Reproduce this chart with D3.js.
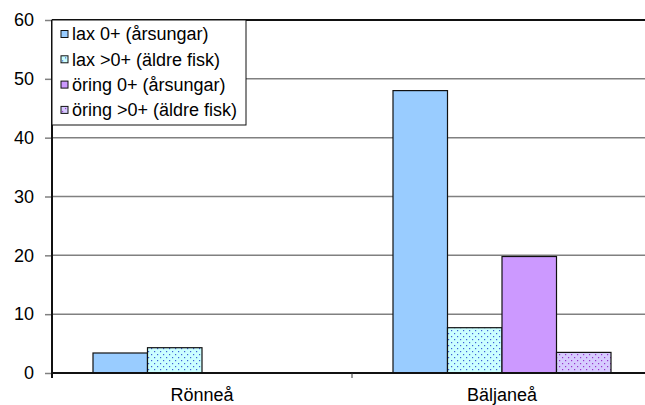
<!DOCTYPE html>
<html>
<head>
<meta charset="utf-8">
<script src="https://cdn.jsdelivr.net/npm/d3@7"></script>
<style>
  body { margin: 0; background: #fff; }
  text { font-family: Arial, "Liberation Sans", sans-serif; }
</style>
</head>
<body>
<script>
// data
const rivers = ["Rönneå", "Bäljaneå"];
const seriesNames = ["lax 0+ (årsungar)", "lax >0+ (äldre fisk)", "öring 0+ (årsungar)", "öring >0+ (äldre fisk)"];
const laxYoung = [3.4, 48];
const laxOld = [4.3, 7.7];
const oringYoung = [0, 19.8];
const oringOld = [0, 3.5];
const yTicks = [0, 10, 20, 30, 40, 50, 60];

const seriesValues = [laxYoung, laxOld, oringYoung, oringOld];

const width = 645, height = 405;
const margin = {top: 20, right: -7, bottom: 32, left: 52};
const innerW = width - margin.left - margin.right;
const innerH = height - margin.top - margin.bottom;
const fontSize = 18;

const svg = d3.select("body").append("svg")
    .attr("width", width)
    .attr("height", height);

// dotted patterns for the older fish
const defs = svg.append("defs");
function dots(id, bg, dot) {
    const p = defs.append("pattern")
        .attr("id", id)
        .attr("patternUnits", "userSpaceOnUse")
        .attr("width", 6).attr("height", 6);
    p.append("rect").attr("width", 6).attr("height", 6).attr("fill", bg);
    p.append("rect").attr("x", 1).attr("y", 1).attr("width", 1.2).attr("height", 1.2).attr("fill", dot);
    p.append("rect").attr("x", 4).attr("y", 4).attr("width", 1.2).attr("height", 1.2).attr("fill", dot);
}
dots("dotBlue", "#ccffff", "#3d5fd8");
dots("dotPurple", "#d6ccff", "#9933cc");

const fills = ["#99ccff", "url(#dotBlue)", "#cc99ff", "url(#dotPurple)"];

const g = svg.append("g").attr("transform", `translate(${margin.left},${margin.top})`);

const x0 = d3.scaleBand().domain(rivers).range([0, innerW]);
const barW = 54.5;
const x1 = d3.scaleBand().domain(d3.range(4)).range([0, barW * 4]);
const groupPad = (x0.bandwidth() - barW * 4) / 2;
const y = d3.scaleLinear().domain([0, 60]).range([innerH, 0]);

// gridlines
g.selectAll(".grid")
    .data(yTicks.filter(d => d > 0))
    .join("line")
    .attr("x1", 0).attr("x2", innerW)
    .attr("y1", d => y(d)).attr("y2", d => y(d))
    .attr("stroke", d => d === 60 ? "#111" : "#808080")
    .attr("stroke-width", d => d === 60 ? 2 : 1.5);

// bars
const groups = g.selectAll(".grp")
    .data(rivers)
    .join("g")
    .attr("transform", d => `translate(${x0(d) + groupPad},0)`);

groups.selectAll("rect")
    .data((d, ri) => seriesValues.map((s, si) => ({si, v: s[ri]})).filter(d => d.v > 0))
    .join("rect")
    .attr("x", d => x1(d.si))
    .attr("width", x1.bandwidth())
    .attr("y", d => y(d.v))
    .attr("height", d => innerH - y(d.v))
    .attr("fill", d => fills[d.si])
    .attr("stroke", "#111")
    .attr("stroke-width", 1.2);

// y axis
const yAxis = g.append("g")
    .call(d3.axisLeft(y).tickValues(yTicks).tickSize(7).tickPadding(11));
yAxis.select(".domain").remove();
yAxis.selectAll(".tick line").attr("stroke", "#808080").attr("stroke-width", 1.5);
yAxis.selectAll("text").attr("font-size", fontSize).attr("fill", "#000");
g.append("line")
    .attr("x1", 0).attr("x2", 0).attr("y1", 0).attr("y2", innerH + 5)
    .attr("stroke", "#111").attr("stroke-width", 2);

// x axis
const xAxis = g.append("g")
    .attr("transform", `translate(0,${innerH})`)
    .call(d3.axisBottom(x0).tickSize(0).tickPadding(15));
xAxis.select(".domain").remove();
xAxis.selectAll("text").attr("font-size", fontSize).attr("fill", "#000");
g.append("line")
    .attr("x1", 0).attr("x2", innerW).attr("y1", innerH).attr("y2", innerH)
    .attr("stroke", "#111").attr("stroke-width", 2);
g.append("line")
    .attr("x1", x0.step()).attr("x2", x0.step()).attr("y1", innerH).attr("y2", innerH + 5)
    .attr("stroke", "#333").attr("stroke-width", 1);

// legend
const legend = g.append("g");
legend.append("rect")
    .attr("x", 0).attr("y", 0).attr("width", 194).attr("height", 105)
    .attr("fill", "#fff").attr("stroke", "#111").attr("stroke-width", 1);
const items = legend.selectAll(".item")
    .data(seriesNames)
    .join("g")
    .attr("transform", (d, i) => `translate(9,${14 + i * 25.3})`);
items.append("rect")
    .attr("x", 0).attr("y", -3.5).attr("width", 7).attr("height", 7)
    .attr("fill", (d, i) => fills[i])
    .attr("stroke", "#111").attr("stroke-width", 1);
items.append("text")
    .attr("x", 11).attr("y", 0).attr("dy", "0.35em")
    .attr("font-size", fontSize)
    .text(d => d);
</script>
</body>
</html>
